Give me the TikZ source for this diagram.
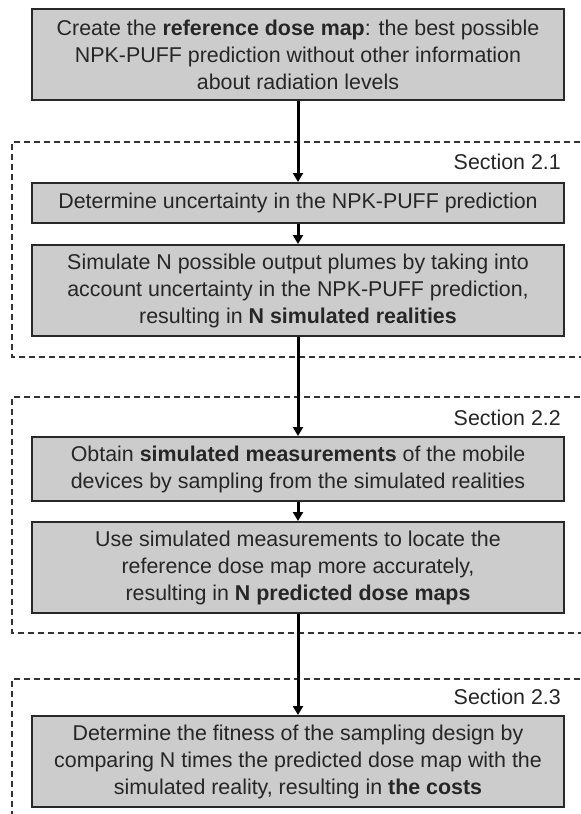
\documentclass[tikz,border=0pt]{standalone}
\usepackage{fontspec}
\setmainfont{Liberation Sans}
\usetikzlibrary{arrows.meta}
\definecolor{boxgray}{RGB}{204,204,204}
\definecolor{edgegray}{RGB}{40,40,40}
\tikzset{
  stepbox/.style={draw=edgegray, line width=2pt, fill=boxgray, minimum width=532pt,
    inner sep=0pt, align=center, font=\fontsize{21.4}{27}\selectfont, text=black!85},
  secframe/.style={draw=black!80, line width=1.5pt, dash pattern=on 6pt off 4pt},
  seclabel/.style={anchor=east, inner sep=0pt, font=\fontsize{21.4}{24}\selectfont, text=black!85},
  flow/.style={draw=black, line width=3pt, -{Triangle[length=9pt,width=10pt]}}
}
\begin{document}
\begin{tikzpicture}[x=1pt,y=-1pt]
\useasboundingbox (0,0) rectangle (581,814);
\fill[white] (0,0) rectangle (581,814);
% section frames (open at the right)
\draw[secframe] (590,142) -- (12,142) -- (12,357) -- (590,357);
\draw[secframe] (590,397) -- (12,397) -- (12,633) -- (590,633);
\draw[secframe] (590,679) -- (12,679) -- (12,830);
\node[seclabel] (s1) at (561,162) {Section 2.1};
\node[seclabel] (s2) at (561,418) {Section 2.2};
\node[seclabel] (s3) at (561,697) {Section 2.3};
% steps
\node[stepbox, minimum height=91pt] (b1) at (298,54.5) {Create the \textbf{reference dose map}: the best possible\\NPK-PUFF prediction without other information\\about radiation levels};
\node[stepbox, minimum height=40pt] (b2) at (298,203) {Determine uncertainty in the NPK-PUFF prediction};
\node[stepbox, minimum height=91pt] (b3) at (298,290.5) {Simulate N possible output plumes by taking into\\account uncertainty in the NPK-PUFF prediction,\\resulting in \textbf{N simulated realities}};
\node[stepbox, minimum height=64pt] (b4) at (298,469) {Obtain \textbf{simulated measurements} of the mobile\\devices by sampling from the simulated realities};
\node[stepbox, minimum height=91pt] (b5) at (298,567.5) {Use simulated measurements to locate the\\reference dose map more accurately,\\resulting in \textbf{N predicted dose maps}};
\node[stepbox, minimum height=91pt] (b6) at (298,761.5) {Determine the fitness of the sampling design by\\comparing N times the predicted dose map with the\\simulated reality, resulting in \textbf{the costs}};
% connectors
\draw[flow] (b1.south) -- (b2.north);
\draw[flow] (b2.south) -- (b3.north);
\draw[flow] (b3.south) -- (b4.north);
\draw[flow] (b4.south) -- (b5.north);
\draw[flow] (b5.south) -- (b6.north);
\end{tikzpicture}
\end{document}
